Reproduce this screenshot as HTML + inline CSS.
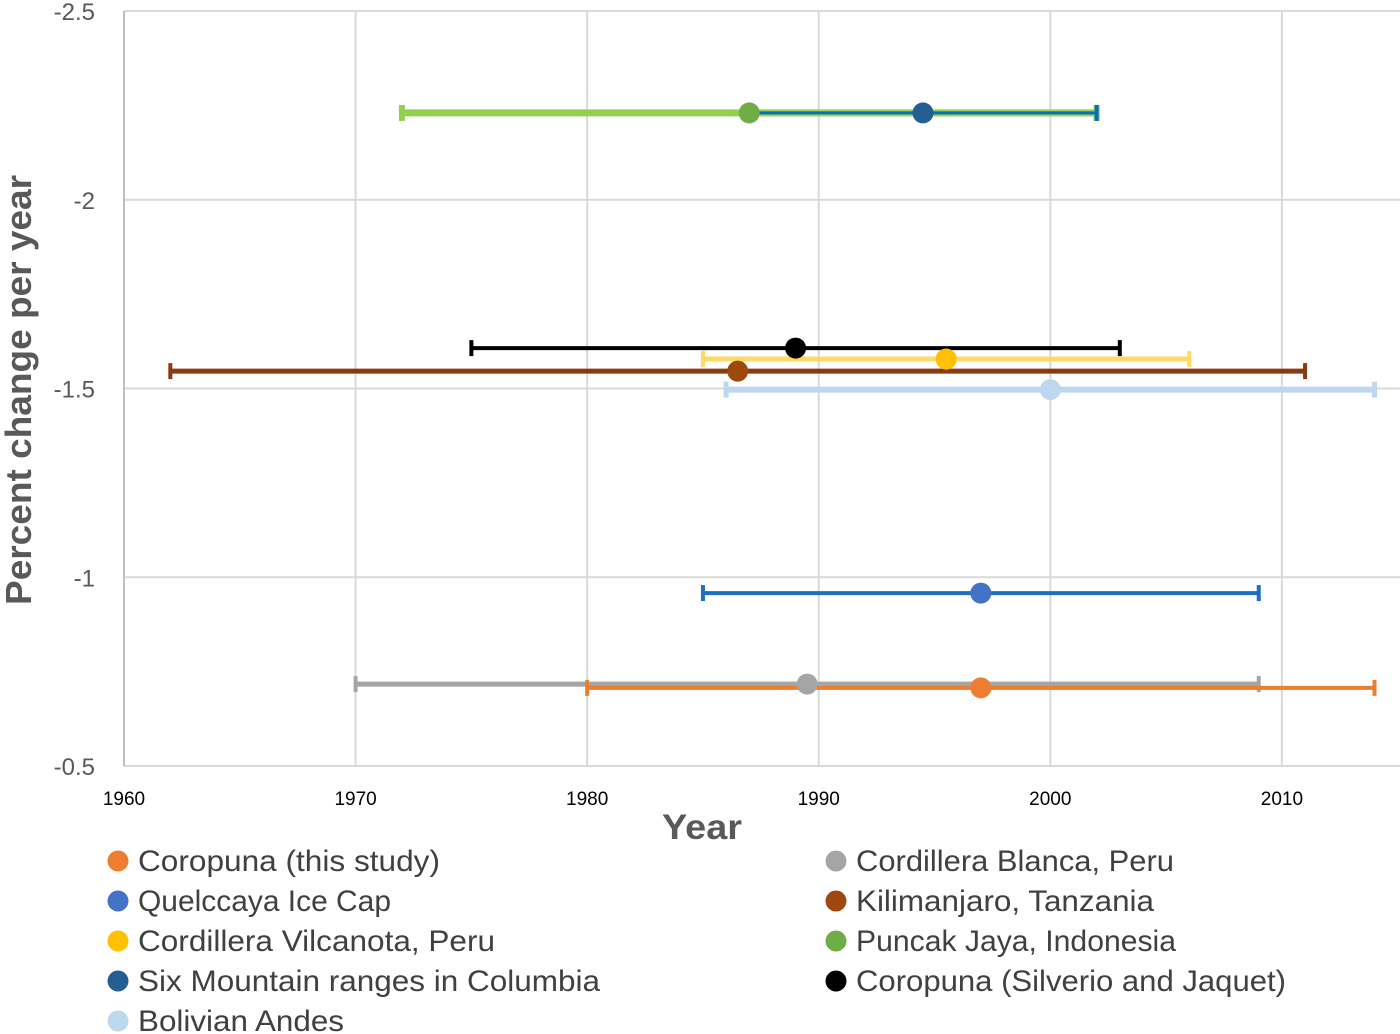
<!DOCTYPE html>
<html><head><meta charset="utf-8"><style>
html,body{margin:0;padding:0;background:#fff;}
svg{display:block;font-family:"Liberation Sans",sans-serif;}
</style></head><body>
<svg id="chart" width="1400" height="1034" viewBox="0 0 1400 1034"></svg>
<script>
const names=["Coropuna (this study)","Quelccaya Ice Cap","Cordillera Vilcanota, Peru","Six Mountain ranges in Columbia","Bolivian Andes","Cordillera Blanca, Peru","Kilimanjaro, Tanzania","Puncak Jaya, Indonesia","Coropuna (Silverio and Jaquet)"];
const centerYear=[1997,1997,1995.5,1994.5,2000,1989.5,1986.5,1987,1989];
const changeVal=[-0.707,-0.958,-1.578,-2.23,-1.497,-0.717,-1.546,-2.23,-1.607];
const startYear=[1980,1985,1985,1987,1986,1970,1962,1972,1975];
const endYear=[2014,2009,2006,2002,2014,2009,2011,2002,2003];
const xTicks=[1960,1970,1980,1990,2000,2010];
const yTicks=[-2.5,-2,-1.5,-1,-0.5];
const markerColors=["#ED7D31","#4472C4","#FFC000","#255E91","#BDD7EE","#A5A5A5","#9E480E","#70AD47","#000000"];
const barColors=["#ED7D31","#1F6FC0","#FFD966","#0070C0","#BDD7EE","#A5A5A5","#8B3A10","#92D050","#000000"];
const barWidths=[4,4,5,3,6,5,5,7,4];
const drawOrder=[4,6,2,8,5,0,1,7,3];
const legendLens=[302,253,357,462,206,318,298,320,430];

const svg=document.getElementById('chart');
const NS='http://www.w3.org/2000/svg';
const X0=124,X1=1400,XMIN=1960,XMAX=2015.1;
const YT=11,YB=766,YMIN=-2.5,YMAX=-0.5;
function sx(v){return X0+(v-XMIN)/(XMAX-XMIN)*(X1-X0);}
function sy(v){return YT+(v-YMIN)/(YMAX-YMIN)*(YB-YT);}
function mk(tag,attrs){const e=document.createElementNS(NS,tag);for(const k in attrs)e.setAttribute(k,attrs[k]);svg.appendChild(e);return e;}

yTicks.forEach(t=>{
  const l=mk('line',{x1:X0,x2:X1,y1:sy(t),y2:sy(t),stroke:'#D9D9D9','stroke-width':2});
  
  
  const tx=mk('text',{x:95,y:sy(t)+9,'text-anchor':'end','font-size':24,fill:'#595959'});
  tx.textContent=String(t);
  
  
});
xTicks.forEach(t=>{
  const l=mk('line',{x1:sx(t),x2:sx(t),y1:YT,y2:YB,stroke:t===XMIN?'#BFBFBF':'#D9D9D9','stroke-width':2});
  
  
  const tx=mk('text',{x:sx(t),y:805,'text-anchor':'middle','font-size':19,fill:'#000'});
  tx.textContent=String(t);
  
  
});
const xt=mk('text',{x:662,y:839,'font-size':35,'font-weight':'bold',fill:'#595959',textLength:80,lengthAdjust:'spacingAndGlyphs'});
xt.textContent='Year';


const yt=mk('text',{x:0,y:0,'font-size':36,'font-weight':'bold',fill:'#595959',transform:'translate(31,605) rotate(-90)',textLength:430,lengthAdjust:'spacingAndGlyphs'});
yt.textContent='Percent change per year';



drawOrder.forEach(i=>{
  const y=sy(changeVal[i]),xa=sx(startYear[i]),xb=sx(endYear[i]),c=barColors[i],w=barWidths[i];
  const b=mk('line',{x1:xa,x2:xb,y1:y,y2:y,stroke:c,'stroke-width':w});
  
  
  [xa,xb].forEach(x=>{
    const cap=mk('line',{x1:x,x2:x,y1:y-8,y2:y+8,stroke:c,'stroke-width':Math.max(4,w-1)});
    
    
  });
});
drawOrder.forEach(i=>{
  const p=mk('circle',{cx:sx(centerYear[i]),cy:sy(changeVal[i]),r:10.5,fill:markerColors[i]});
  
  
});

names.forEach((n,i)=>{
  const col=i<5?0:1,row=i<5?i:i-5;
  const cx=col?836:118,cy=861+row*40;
  const c=mk('circle',{cx:cx,cy:cy,r:10.5,fill:markerColors[i]});
  
  
  const t=mk('text',{x:cx+20,y:cy+10,'font-size':30,fill:'#404040',textLength:legendLens[i],lengthAdjust:'spacingAndGlyphs'});
  t.textContent=n;
  
  
});
</script>
</body></html>
